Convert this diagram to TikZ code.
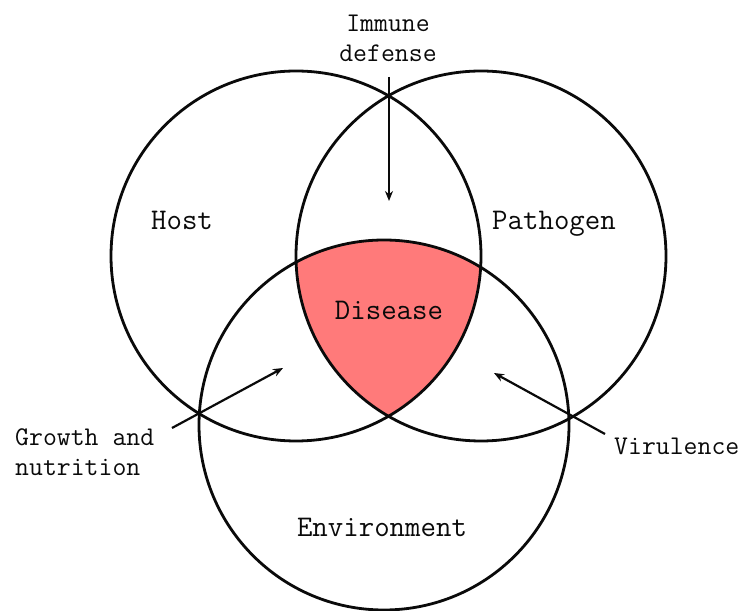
\documentclass[tikz,border=0pt]{standalone}
\definecolor{dzRed}{RGB}{255, 122, 122}
\definecolor{dzInk}{RGB}{10, 10, 10}
\usetikzlibrary{arrows.meta, positioning}
\tikzset{
  ring/.style={draw=dzInk, line width=2.8pt},
  biglabel/.style={font=\ttfamily\fontsize{30}{34}\selectfont, text=dzInk, inner sep=0pt, anchor=base},
  sidelabel/.style={font=\ttfamily\fontsize{27}{30}\selectfont, text=dzInk, inner sep=0pt},
  pointer/.style={-{Stealth[length=10pt, width=8pt]}, line width=2.2pt, dzInk},
}

\begin{document}
\begin{tikzpicture}[x=1pt, y=1pt]
  \useasboundingbox (0,0) rectangle (746,610);
  % centres of the three circles
  \coordinate (hostc) at (296,354);
  \coordinate (pathc) at (481,354);
  \coordinate (envc) at (384,185);

  % disease = all three overlap
  \begin{scope}
    \clip (hostc) circle (185pt);
    \clip (pathc) circle (185pt);
    \fill[dzRed] (envc) circle (185pt);
  \end{scope}

  \draw[ring] (hostc) circle (185pt);
  \draw[ring] (pathc) circle (185pt);
  \draw[ring] (envc) circle (185pt);

  \node[biglabel] (host) at (182,380) {Host};
  \node[biglabel] (pathogen) at (554,380) {Pathogen};
  \node[biglabel] (disease) at (389,290) {Disease};
  \node[biglabel] (environ) at (382,74) {Environment};

  \node[sidelabel, align=center] (immune) at (388,572) {Immune\\defense};
  \node[sidelabel, align=left, anchor=west] (growth) at (15,158) {Growth and\\nutrition};
  \node[sidelabel, anchor=base west] (virulence) at (614,155) {Virulence};

  % arrows
  \coordinate (immunefrom) at (389,533);
  \coordinate (immuneto) at (389,409);
  \coordinate (growthfrom) at (172,182);
  \coordinate (growthto) at (283,242);
  \coordinate (virfrom) at (605,176);
  \coordinate (virto) at (494,237);
  \draw[pointer] (immunefrom) -- (immuneto);
  \draw[pointer] (growthfrom) -- (growthto);
  \draw[pointer] (virfrom) -- (virto);
\end{tikzpicture}
\end{document}
